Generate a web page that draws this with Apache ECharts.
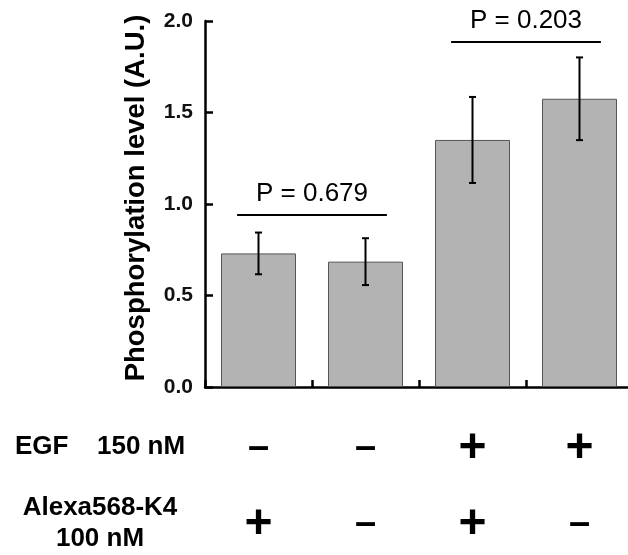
<!DOCTYPE html>
<html>
<head>
<meta charset="utf-8">
<script src="https://cdn.jsdelivr.net/npm/echarts@6/dist/echarts.min.js"></script>
<style>
  html, body { margin: 0; padding: 0; background: #fff; overflow: hidden; }
  #chart { width: 640px; height: 555px; }
</style>
</head>
<body>
<div id="chart"></div>
<script>
// data
var groups = ['g1', 'g2', 'g3', 'g4'];
var means = [0.73, 0.685, 1.35, 1.575];
var errs = [0.114, 0.128, 0.235, 0.226];
var egfSigns = ['–', '–', '+', '+'];
var alexaSigns = ['+', '–', '+', '–'];
var yTicks = [0, 0.5, 1.0, 1.5, 2.0];

// P value brackets
var bracketFrom = [0, 2];
var bracketTo = [1, 3];
var bracketY = [0.94, 1.885];
var bracketLabel = ['P = 0.679', 'P = 0.203'];

var FONT = 'Liberation Sans, Arial, sans-serif';

var errData = [];
for (var i = 0; i < groups.length; i++) {
  errData.push([i, means[i] - errs[i], means[i] + errs[i]]);
}
var brData = [];
for (var j = 0; j < bracketFrom.length; j++) {
  brData.push([bracketFrom[j], bracketTo[j], bracketY[j], j]);
}

function sign(s) {
  return s === '+' ? '{plus|+}' : '{minus|–}';
}

// the chart box is a bit wider than the window, the x axis runs off the right edge
var myChart = echarts.init(document.getElementById('chart'));
myChart.setOption({
  animation: false,
  grid: { left: 205, right: 7, top: 21, bottom: 168 },
  xAxis: {
    type: 'category',
    data: groups,
    axisLine: { lineStyle: { color: '#000', width: 2.5 } },
    axisTick: { show: true, interval: 0, alignWithLabel: false, inside: true, length: 7, lineStyle: { color: '#000', width: 2.5 } },
    axisLabel: {
      margin: 24,
      interval: 0,
      formatter: function (v, idx) {
        return sign(egfSigns[idx]) + '\n' + sign(alexaSigns[idx]);
      },
      rich: {
        plus: { fontSize: 48, fontWeight: 'bold', fontFamily: FONT, color: '#000', lineHeight: 76 },
        minus: { fontSize: 38, fontWeight: 'bold', fontFamily: FONT, color: '#000', lineHeight: 76 }
      }
    }
  },
  yAxis: {
    type: 'value',
    min: yTicks[0],
    max: yTicks[yTicks.length - 1],
    interval: 0.5,
    name: 'Phosphorylation level (A.U.)',
    nameLocation: 'middle',
    nameGap: 55,
    nameTextStyle: { fontSize: 27.5, fontWeight: 'bold', fontFamily: FONT, color: '#000', padding: [0, 0, 0, 12] },
    axisLine: { show: true, lineStyle: { color: '#000', width: 2.5 } },
    axisTick: { show: true, inside: true, length: 8, lineStyle: { color: '#000', width: 2.5 } },
    axisLabel: {
      margin: 12,
      fontSize: 21,
      fontWeight: 'bold',
      fontFamily: FONT,
      color: '#111',
      formatter: function (v) { return v.toFixed(1); }
    },
    splitLine: { show: false }
  },
  graphic: [
    { type: 'text', x: 15, y: 447, style: { text: 'EGF', fontSize: 26, fontWeight: 'bold', fontFamily: FONT, fill: '#000', verticalAlign: 'middle' } },
    { type: 'text', x: 97, y: 447, style: { text: '150 nM', fontSize: 26, fontWeight: 'bold', fontFamily: FONT, fill: '#000', verticalAlign: 'middle' } },
    { type: 'text', x: 100, y: 508, style: { text: 'Alexa568-K4', fontSize: 26, fontWeight: 'bold', fontFamily: FONT, fill: '#000', align: 'center', verticalAlign: 'middle' } },
    { type: 'text', x: 100, y: 539, style: { text: '100 nM', fontSize: 26, fontWeight: 'bold', fontFamily: FONT, fill: '#000', align: 'center', verticalAlign: 'middle' } }
  ],
  series: [
    {
      type: 'bar',
      data: means,
      barWidth: 75,
      itemStyle: { color: '#b3b3b3', borderColor: '#555', borderWidth: 1 }
    },
    {
      type: 'custom',
      data: errData,
      z: 5,
      renderItem: function (params, api) {
        var idx = api.value(0);
        var lo = api.coord([idx, api.value(1)]);
        var hi = api.coord([idx, api.value(2)]);
        var cap = 3.5;
        var st = { stroke: '#000', lineWidth: 2 };
        return {
          type: 'group',
          children: [
            { type: 'line', shape: { x1: lo[0], y1: lo[1], x2: hi[0], y2: hi[1] }, style: st },
            { type: 'line', shape: { x1: hi[0] - cap, y1: hi[1], x2: hi[0] + cap, y2: hi[1] }, style: st },
            { type: 'line', shape: { x1: lo[0] - cap, y1: lo[1], x2: lo[0] + cap, y2: lo[1] }, style: st }
          ]
        };
      }
    },
    {
      type: 'custom',
      data: brData,
      z: 5,
      renderItem: function (params, api) {
        var a = api.coord([api.value(0), api.value(2)]);
        var b = api.coord([api.value(1), api.value(2)]);
        var band = api.size([1, 0])[0];
        var x1 = a[0] - band * 0.2;
        var x2 = b[0] + band * 0.2;
        return {
          type: 'group',
          children: [
            { type: 'line', shape: { x1: x1, y1: a[1], x2: x2, y2: a[1] }, style: { stroke: '#000', lineWidth: 2 } },
            { type: 'text', x: (x1 + x2) / 2, y: a[1] - 8, style: { text: bracketLabel[api.value(3)], fontSize: 26, fontFamily: FONT, fill: '#000', align: 'center', verticalAlign: 'bottom' } }
          ]
        };
      }
    }
  ]
});
</script>
</body>
</html>
